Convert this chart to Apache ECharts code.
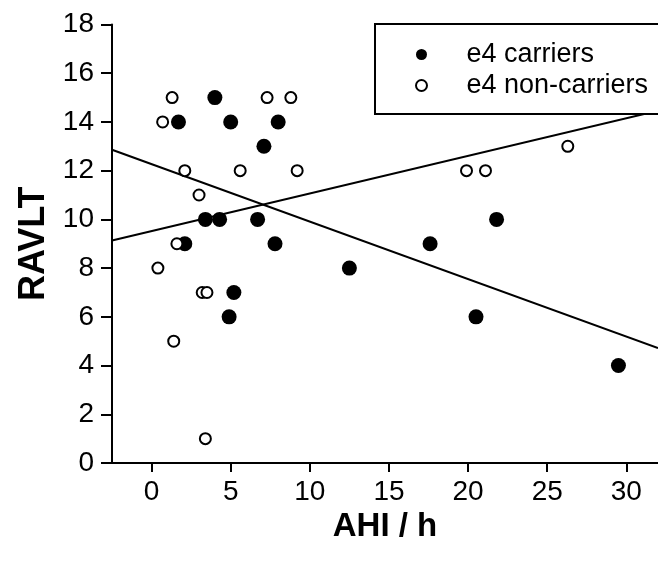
<!DOCTYPE html>
<html>
<head>
<meta charset="utf-8">
<script src="https://cdn.jsdelivr.net/npm/echarts@6/dist/echarts.min.js"></script>
<style>
  html, body { margin: 0; padding: 0; background: #fff; }
  #chart { width: 658px; height: 561px; }
</style>
</head>
<body>
<div id="chart"></div>
<script>
// ---- data ----
const carriersAHI   = [4.0, 1.7, 5.0, 8.0, 7.1, 3.4, 4.3, 6.7, 2.1, 7.8, 5.2, 4.9, 12.5, 17.6, 21.8, 20.5, 29.5];
const carriersRAVLT = [15, 14, 14, 14, 13, 10, 10, 10, 9, 9, 7, 6, 8, 9, 10, 6, 4];

const nonCarriersAHI   = [1.3, 7.3, 8.8, 0.7, 2.1, 5.6, 9.2, 3.0, 1.6, 0.4, 3.2, 3.5, 1.4, 3.4, 19.9, 21.1, 26.3];
const nonCarriersRAVLT = [15, 15, 15, 14, 12, 12, 12, 11, 9, 8, 7, 7, 5, 1, 12, 12, 13];

// fitted regression lines: [intercept, slope]
const carriersFit    = [12.27, -0.236];
const nonCarriersFit = [9.52, 0.1545];

const xRange = [-2.5, 32];
const yTicks = [0, 2, 4, 6, 8, 10, 12, 14, 16, 18];
const xTicks = [0, 5, 10, 15, 20, 25, 30];
const seriesNames = ['e4 carriers', 'e4 non-carriers'];
const axisTitles = { x: 'AHI / h', y: 'RAVLT' };

// ---- build ----
const zip = (xs, ys) => xs.map((x, i) => [x, ys[i]]);
const fitLine = (fit) => xRange.map(x => [x, fit[0] + fit[1] * x]);

const FONT = "'Liberation Sans', Arial, sans-serif";
const chart = echarts.init(document.getElementById('chart'), null, { renderer: 'canvas' });

chart.setOption({
  backgroundColor: '#fff',
  animation: false,
  grid: { left: 112, top: 24.5, right: -1.5, bottom: 98, containLabel: false },
  legend: {
    data: seriesNames,
    orient: 'vertical',
    left: 375,
    top: 24,
    padding: [17, 60, 15, 40],
    itemGap: 4,
    itemWidth: 80,
    itemHeight: 11,
    borderColor: '#000',
    borderWidth: 2,
    backgroundColor: '#fff',
    textStyle: { fontFamily: FONT, fontSize: 27, color: '#000' }
  },
  xAxis: {
    type: 'value',
    min: xRange[0],
    max: xRange[1],
    name: axisTitles.x,
    nameLocation: 'middle',
    nameGap: 46,
    nameTextStyle: { fontFamily: FONT, fontSize: 33, fontWeight: 'bold', color: '#000' },
    splitLine: { show: false },
    axisLine: { show: true, onZero: false, lineStyle: { color: '#000', width: 2 } },
    axisTick: { show: true, length: 9, lineStyle: { color: '#000', width: 2 },
      customValues: xTicks },
    axisLabel: { fontFamily: FONT, fontSize: 28, color: '#000', margin: 15,
      customValues: xTicks }
  },
  yAxis: {
    type: 'value',
    min: 0,
    max: 18,
    interval: 2,
    name: axisTitles.y,
    nameLocation: 'middle',
    nameGap: 60,
    nameTextStyle: { fontFamily: FONT, fontSize: 36, fontWeight: 'bold', color: '#000' },
    splitLine: { show: false },
    axisLine: { show: true, onZero: false, lineStyle: { color: '#000', width: 2 } },
    axisTick: { show: true, length: 11, lineStyle: { color: '#000', width: 2 } },
    axisLabel: { fontFamily: FONT, fontSize: 28, color: '#000', margin: 18,
      formatter: v => yTicks.includes(v) ? String(v) : '' }
  },
  series: [
    {
      name: 'carriers fit',
      type: 'line',
      data: fitLine(carriersFit),
      showSymbol: false,
      symbol: 'none',
      lineStyle: { color: '#000', width: 2 },
      silent: true,
      z: 1
    },
    {
      name: 'non-carriers fit',
      type: 'line',
      data: fitLine(nonCarriersFit),
      showSymbol: false,
      symbol: 'none',
      lineStyle: { color: '#000', width: 2 },
      silent: true,
      z: 1
    },
    {
      name: seriesNames[0],
      type: 'scatter',
      data: zip(carriersAHI, carriersRAVLT),
      symbol: 'circle',
      symbolSize: 15,
      itemStyle: { color: '#000', borderColor: '#000', borderWidth: 0, opacity: 1 },
      z: 3
    },
    {
      name: seriesNames[1],
      type: 'scatter',
      data: zip(nonCarriersAHI, nonCarriersRAVLT),
      symbol: 'circle',
      symbolSize: 11,
      itemStyle: { color: '#fff', borderColor: '#000', borderWidth: 2, opacity: 1 },
      z: 4
    }
  ]
});
</script>
</body>
</html>
